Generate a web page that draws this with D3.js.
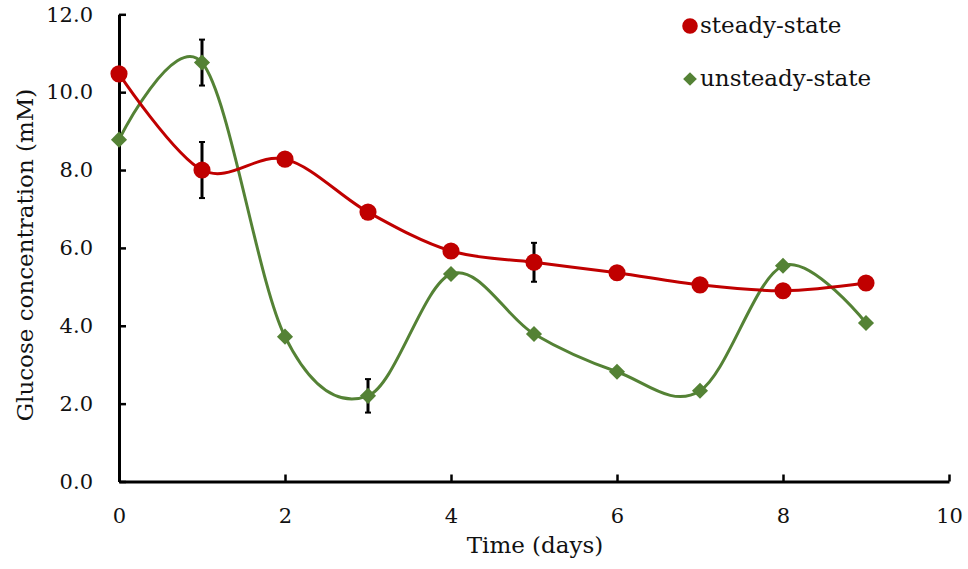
<!DOCTYPE html>
<html>
<head>
<meta charset="utf-8">
<script src="https://cdn.jsdelivr.net/npm/d3@7"></script>
<style>
  body { margin: 0; background: #fff; }
  text { font-family: "DejaVu Serif", "Liberation Serif", serif; fill: #111; }
</style>
</head>
<body>
<svg id="vis"></svg>
<script>
const svg = d3.select("#vis").attr("width", 968).attr("height", 569);

const days = [0, 1, 2, 3, 4, 5, 6, 7, 8, 9];
const steady = [10.47, 8.0, 8.28, 6.92, 5.92, 5.63, 5.36, 5.05, 4.9, 5.1];
const steadyErr = [0, 0.72, 0, 0, 0, 0.5, 0, 0, 0, 0];
const unsteady = [8.78, 10.76, 3.72, 2.2, 5.33, 3.79, 2.82, 2.33, 5.54, 4.07];
const unsteadyErr = [0, 0.59, 0, 0.43, 0, 0, 0, 0, 0, 0];
const xTicks = [0, 2, 4, 6, 8, 10];
const yTicks = [0, 2, 4, 6, 8, 10, 12];

const RED = "#C00000";
const GREEN = "#548235";

let xscale = d3.scaleLinear().domain([0, 10]).range([119, 949]);
let yscale = d3.scaleLinear().domain([0, 12]).range([481.5, 14.3]);

function main() {
    drawAxes();
    drawSeries(unsteady, unsteadyErr, GREEN, "diamond");
    drawSeries(steady, steadyErr, RED, "circle");
    drawLegend();
}

function drawAxes() {
    const xAxis = d3.axisBottom(xscale).tickValues(xTicks).tickSizeInner(-7).tickSizeOuter(0)
        .tickPadding(27).tickFormat(d3.format("d"));
    const gx = svg.append("g").attr("transform", `translate(0,${yscale(0)})`).call(xAxis);

    const yAxis = d3.axisLeft(yscale).tickValues(yTicks).tickSizeInner(-7).tickSizeOuter(0)
        .tickPadding(26).tickFormat(d3.format(".1f"));
    const gy = svg.append("g").attr("transform", `translate(${xscale(0)},0)`).call(yAxis);

    [gx, gy].forEach(g => {
        g.select(".domain").attr("stroke", "#000").attr("stroke-width", 3);
        g.selectAll(".tick line").attr("stroke", "#000").attr("stroke-width", 2.5);
        g.selectAll(".tick text").style("font-size", "21px").attr("fill", "#111")
            .style("font-family", "'DejaVu Serif', serif");
    });

    svg.append("text")
        .attr("x", 535).attr("y", 553)
        .style("text-anchor", "middle").style("font-size", "23px")
        .text("Time (days)");

    svg.append("text")
        .attr("transform", "translate(33,255) rotate(-90)")
        .style("text-anchor", "middle").style("font-size", "23px")
        .text("Glucose concentration (mM)");
}

function drawSeries(values, errs, color, shape) {
    const pts = days.map((d, i) => ({x: d, y: values[i], e: errs[i]}));
    const line = d3.line().x(d => xscale(d.x)).y(d => yscale(d.y)).curve(d3.curveCardinal.tension(0));

    svg.append("path").datum(pts)
        .attr("fill", "none").attr("stroke", color).attr("stroke-width", 3)
        .attr("d", line);

    const bars = pts.filter(d => d.e > 0);
    const eb = svg.append("g").attr("stroke", "#000").attr("stroke-width", 3);
    eb.selectAll("line.v").data(bars).join("line")
        .attr("x1", d => xscale(d.x)).attr("x2", d => xscale(d.x))
        .attr("y1", d => yscale(d.y - d.e)).attr("y2", d => yscale(d.y + d.e));
    eb.selectAll("line.t").data(bars).join("line")
        .attr("stroke-width", 2)
        .attr("x1", d => xscale(d.x) - 3).attr("x2", d => xscale(d.x) + 3)
        .attr("y1", d => yscale(d.y + d.e)).attr("y2", d => yscale(d.y + d.e));
    eb.selectAll("line.b").data(bars).join("line")
        .attr("stroke-width", 2)
        .attr("x1", d => xscale(d.x) - 3).attr("x2", d => xscale(d.x) + 3)
        .attr("y1", d => yscale(d.y - d.e)).attr("y2", d => yscale(d.y - d.e));

    const sym = shape === "circle"
        ? d3.symbol().type(d3.symbolCircle).size(230)
        : d3.symbol().type(d3.symbolDiamond2).size(165);
    svg.selectAll(".pt-" + shape).data(pts).join("path")
        .attr("class", "pt-" + shape)
        .attr("transform", d => `translate(${xscale(d.x)},${yscale(d.y)})`)
        .attr("d", sym)
        .attr("fill", color);
}

function drawLegend() {
    const items = [
        {label: "steady-state", color: RED, shape: d3.symbolCircle, size: 190, y: 26},
        {label: "unsteady-state", color: GREEN, shape: d3.symbolDiamond2, size: 120, y: 79}
    ];
    const g = svg.append("g");
    g.selectAll("path").data(items).join("path")
        .attr("transform", d => `translate(690,${d.y})`)
        .attr("d", d => d3.symbol().type(d.shape).size(d.size)())
        .attr("fill", d => d.color);
    g.selectAll("text").data(items).join("text")
        .attr("x", 700).attr("y", d => d.y + 7)
        .style("font-size", "23px")
        .text(d => d.label);
}

main();
</script>
</body>
</html>
